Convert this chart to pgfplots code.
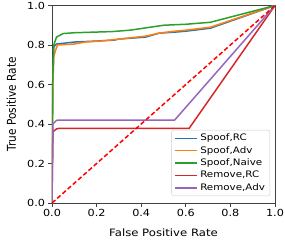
\documentclass[border=0pt]{standalone}
\usepackage{pgfplots}
\pgfplotsset{compat=1.18}
\usepackage{fontspec}
\setmainfont{DejaVu Sans}
\newfontfamily\wide[FakeStretch=1.15]{DejaVu Sans}
\definecolor{tblue}{HTML}{1F77B4}
\definecolor{torange}{HTML}{FF7F0E}
\definecolor{tgreen}{HTML}{2CA02C}
\definecolor{tred}{HTML}{D62728}
\definecolor{tpurple}{HTML}{9467BD}
\begin{document}
\begin{tikzpicture}
\path[use as bounding box] (-52bp,-38bp) rectangle (233bp,203bp);
\begin{axis}[
  at={(0,0)}, anchor=south west,
  scale only axis, width=223bp, height=197.5bp,
  xmin=0, xmax=1, ymin=0, ymax=1,
  xtick={0,0.2,0.4,0.6,0.8,1.0}, ytick={0,0.2,0.4,0.6,0.8,1.0},
  xticklabels={0.0,0.2,0.4,0.6,0.8,1.0}, yticklabels={0.0,0.2,0.4,0.6,0.8,1.0},
  tick align=outside, xtick pos=bottom, ytick pos=left,
  major tick length=3.5bp,
  tick label style={font=\wide\fontsize{9.8}{11}\selectfont},
  xticklabel style={yshift=0.5pt},
  xlabel={False Positive Rate}, ylabel={\scalebox{1}[1.15]{True Positive Rate}},
  xlabel style={font=\wide\fontsize{10.2}{12}\selectfont, at={(axis description cs:0.5,0)}, anchor=base, yshift=-33bp},
  ylabel style={font=\fontsize{10.6}{12}\selectfont, at={(axis description cs:0,0.5)}, anchor=base, yshift=36bp},
  axis line style={black!75, line width=0.9pt},
  every tick/.style={black!75, line width=0.9pt},
  legend style={at={(0.978,0.035)}, anchor=south east, font=\wide\fontsize{9}{10}\selectfont, draw=black!20, rounded corners=1.5pt, row sep=0pt, inner xsep=3pt, inner ysep=2pt,
    nodes={text height=7.2pt, text depth=2pt, inner ysep=1.6pt}},
  legend cell align=left,
  legend image code/.code={\draw[#1, line width=1.6pt] (0bp,0bp) -- (22bp,0bp);},
]
\addplot[tblue, line width=1.5pt] coordinates {(0,0) (0.003,0.6) (0.008,0.79) (0.02,0.805) (0.06,0.81) (0.1,0.815) (0.2,0.82) (0.28,0.825) (0.3,0.83) (0.42,0.84) (0.48,0.86) (0.55,0.865) (0.6,0.87) (0.71,0.885) (1,1)};
\addlegendentry{Spoof,RC}
\addplot[torange, line width=1.5pt] coordinates {(0,0) (0.004,0.6) (0.008,0.74) (0.015,0.77) (0.025,0.8) (0.1,0.805) (0.15,0.815) (0.22,0.82) (0.3,0.83) (0.42,0.845) (0.48,0.86) (0.55,0.87) (0.6,0.875) (0.71,0.89) (1,1)};
\addlegendentry{Spoof,Adv}
\addplot[tgreen, line width=1.5pt] coordinates {(0,0) (0.003,0.6) (0.008,0.8) (0.02,0.84) (0.05,0.858) (0.1,0.862) (0.27,0.868) (0.35,0.875) (0.44,0.89) (0.5,0.9) (0.6,0.905) (0.71,0.915) (1,1)};
\addlegendentry{Spoof,Naive}
\addplot[tred, line width=1.5pt] coordinates {(0,0) (0.004,0.36) (0.02,0.375) (0.03,0.378) (0.615,0.378) (1,1)};
\addlegendentry{Remove,RC}
\addplot[tpurple, line width=1.5pt] coordinates {(0,0) (0.004,0.4) (0.02,0.418) (0.03,0.42) (0.55,0.42) (1,1)};
\addlegendentry{Remove,Adv}
\addplot[red, line width=1.5pt, dash pattern=on 4.5pt off 2.5pt, forget plot] coordinates {(0,0) (1,1)};
\end{axis}
\end{tikzpicture}
\end{document}
